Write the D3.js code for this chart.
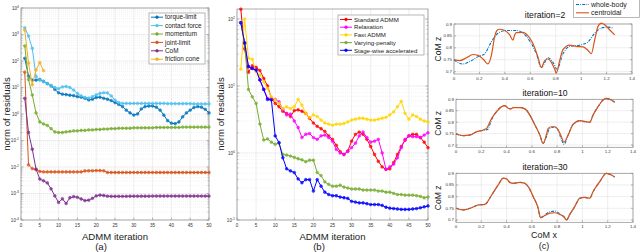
<!DOCTYPE html>
<html>
<head>
<meta charset="utf-8">
<script src="https://cdn.jsdelivr.net/npm/d3@7"></script>
<style>
  body { margin: 0; background: #fff; }
  svg { display: block; font-family: "Liberation Sans", Arial, sans-serif; }
</style>
</head>
<body>
<svg id="fig" width="640" height="252"></svg>
<script>
// ---------- panel (a): residual of each block, iterations 1..50
const torqueLimit = [126, 27, 19, 19, 20, 17, 14, 11.5, 8.5, 6.3,
  5.6, 5.4, 5.1, 4.9, 4.5, 4.3, 3.9, 3.4, 3.6, 4.2,
  4.3, 3.9, 3.6, 3.2, 2.7, 2.3, 1.9, 1.4, 1.1, 0.91,
  1.0, 1.55, 1.9, 2.0, 2.0, 1.8, 1.4, 0.9, 0.56, 0.45,
  0.43, 0.5, 0.78, 1.1, 1.4, 1.75, 1.9, 1.8, 1.5, 1.1];
const contactForce = [1780, 870, 300, 26, 19, 17, 14, 12, 10, 9,
  10.5, 11, 10, 8, 6, 4.8, 4.2, 4, 4.5, 5.3,
  6, 6.3, 6.2, 4.8, 3.3, 2.7, 2.5, 2.5, 2.5, 2.5,
  2.5, 2.5, 2.5, 2.5, 2.5, 2.5, 2.5, 2.5, 2.45, 2.45,
  2.45, 2.45, 2.45, 2.45, 2.45, 2.4, 2.4, 2.4, 2.4, 2.4];
const momentum = [370, 20, 5.2, 1.1, 0.5, 0.42, 0.37, 0.28, 0.21, 0.2,
  0.2, 0.21, 0.22, 0.23, 0.23, 0.24, 0.24, 0.25, 0.25, 0.26,
  0.26, 0.27, 0.27, 0.28, 0.28, 0.29, 0.29, 0.29, 0.29, 0.3,
  0.3, 0.3, 0.3, 0.3, 0.3, 0.31, 0.31, 0.31, 0.31, 0.31,
  0.31, 0.31, 0.32, 0.32, 0.32, 0.32, 0.32, 0.32, 0.32, 0.32];
const jointLimit = [38, 0.012, 0.0087, 0.0079, 0.0068, 0.0065, 0.0065, 0.0065, 0.0065, 0.0065,
  0.0065, 0.0065, 0.0065, 0.0065, 0.0065, 0.0065, 0.0071, 0.0072, 0.0072, 0.0073,
  0.0073, 0.0072, 0.0062, 0.0062, 0.0062, 0.0062, 0.0062, 0.0062, 0.0062, 0.0062,
  0.0062, 0.0062, 0.0062, 0.0062, 0.0062, 0.0062, 0.0062, 0.0062, 0.0062, 0.0062,
  0.0062, 0.0062, 0.0062, 0.0062, 0.0062, 0.0062, 0.0062, 0.0062, 0.0062, 0.0062];
const comResidual = [3.9, 0.2, 0.047, 0.0083, 0.0035, 0.003, 0.0025, 0.0015, 0.00081, 0.00046,
  0.00063, 0.00042, 0.00069, 0.00076, 0.00072, 0.00062, 0.00054, 0.00056, 0.00066, 0.00081,
  0.00087, 0.00084, 0.00079, 0.00078, 0.00078, 0.00078, 0.00078, 0.00078, 0.00079, 0.00079,
  0.00079, 0.00079, 0.00079, 0.00079, 0.0008, 0.0008, 0.0008, 0.0008, 0.0008, 0.0008,
  0.0008, 0.0008, 0.0008, 0.0008, 0.0008, 0.0008, 0.0008, 0.0008, 0.0008, 0.0008];
const frictionCone = [1480, 83, 12.6, 46, 87, 43];
const namesA = ["torque-limit", "contact force", "momentum", "joint-limit", "CoM", "friction cone"];

// ---------- panel (b): ADMM variants, iterations 1..50
const standardADMM = [140, 36, 16, 20, 19, 17, 13, 10, 6.6, 5.5,
  4.9, 4.2, 3.9, 3.5, 4.3, 4.4, 4.2, 3.9, 3.3, 2.8,
  2.5, 2.3, 2.1, 1.8, 1.6, 1.3, 1.05, 0.95, 1.07, 1.5,
  1.9, 2.05, 1.9, 1.6, 1.25, 0.95, 0.75, 0.62, 0.57, 0.58,
  0.72, 0.95, 1.25, 1.55, 1.8, 1.9, 1.9, 1.7, 1.45, 1.2];
const relaxation = [88, 44, 19.5, 18.3, 17.3, 12.3, 8.9, 6.5, 6.3, 6.3,
  5.8, 4.5, 3.7, 3.8, 3.0, 2.4, 1.7, 1.9, 1.95, 1.7,
  1.6, 1.8, 1.85, 1.7, 1.5, 1.13, 1.0, 0.95, 1.05, 1.2,
  1.4, 1.8, 2.05, 1.7, 1.45, 1.5, 1.6, 1.0, 0.57, 0.62,
  0.68, 0.85, 1.2, 1.6, 1.8, 1.75, 1.75, 1.7, 1.85, 2.0];
const fastADMM = [17.8, 100, 26, 25, 16.3, 14.5, 11.5, 9.2, 6.9, 6.2,
  5.5, 4.6, 4.9, 4.6, 4.9, 6.3, 5.2, 3.9, 3.4, 3.7,
  3.5, 3.1, 2.8, 2.7, 2.6, 2.7, 2.7, 2.75, 2.9, 3.1,
  3.2, 3.3, 3.3, 3.2, 3.1, 3.1, 3.2, 3.3, 3.4, 3.7,
  4.1, 4.9, 5.9, 3.9, 3.2, 3.7, 3.5, 3.2, 3.0, 2.9];
const varyingPenalty = [88, 43, 8.9, 6.9, 5.5, 2.7, 1.56, 1.62, 1.45, 1.35,
  1.4, 0.95, 0.93, 0.9, 0.86, 0.82, 0.79, 0.74, 0.78, 0.78,
  0.51, 0.46, 0.37, 0.34, 0.32, 0.32, 0.33, 0.31, 0.30, 0.29,
  0.29, 0.29, 0.28, 0.28, 0.28, 0.28, 0.27, 0.27, 0.26, 0.26,
  0.25, 0.24, 0.24, 0.235, 0.235, 0.235, 0.23, 0.225, 0.215, 0.22];
const stageWise = [88, 44, 19.5, 18.3, 17.3, 12.3, 8.9, 6.3, 6.2, 1.8,
  1.43, 0.85, 0.58, 0.54, 0.51, 0.41, 0.36, 0.40, 0.40, 0.27,
  0.40, 0.32, 0.26, 0.24, 0.23, 0.23, 0.22, 0.215, 0.21, 0.19,
  0.185, 0.18, 0.18, 0.175, 0.17, 0.17, 0.17, 0.165, 0.155, 0.15,
  0.148, 0.146, 0.144, 0.144, 0.144, 0.146, 0.148, 0.152, 0.157, 0.162];
const namesB = ["Standard ADMM", "Relaxation", "Fast ADMM", "Varying-penalty", "Stage-wise accelerated"];

// ---------- panel (c): CoM trajectories [x, z]
const wholeBody2 = [[0, 0.749], [0.071, 0.732], [0.123, 0.742], [0.189, 0.763], [0.241, 0.775],
  [0.294, 0.825], [0.346, 0.861], [0.412, 0.873], [0.49, 0.873], [0.543, 0.861], [0.595, 0.829],
  [0.648, 0.775], [0.687, 0.717], [0.739, 0.758], [0.779, 0.739], [0.81, 0.71], [0.857, 0.775],
  [0.91, 0.806], [0.988, 0.811], [1.054, 0.825], [1.106, 0.861], [1.159, 0.883], [1.211, 0.887],
  [1.25, 0.883]];
const centroidal2 = [[0, 0.749], [0.045, 0.746], [0.097, 0.758], [0.149, 0.772], [0.189, 0.768],
  [0.228, 0.753], [0.267, 0.732], [0.294, 0.768], [0.32, 0.847], [0.338, 0.873], [0.359, 0.878],
  [0.399, 0.873], [0.438, 0.854], [0.464, 0.832], [0.477, 0.854], [0.49, 0.864], [0.543, 0.865],
  [0.582, 0.85], [0.621, 0.818], [0.661, 0.76], [0.687, 0.717], [0.713, 0.746], [0.739, 0.753],
  [0.766, 0.739], [0.792, 0.71], [0.805, 0.695], [0.831, 0.746], [0.857, 0.792], [0.91, 0.811],
  [0.962, 0.806], [1.015, 0.804], [1.054, 0.789], [1.08, 0.775], [1.106, 0.832], [1.133, 0.89],
  [1.159, 0.904], [1.185, 0.897], [1.224, 0.876], [1.264, 0.854]];
const wholeBody10 = [[0, 0.748], [0.058, 0.741], [0.111, 0.744], [0.163, 0.758], [0.216, 0.764],
  [0.25, 0.768], [0.282, 0.812], [0.321, 0.846], [0.361, 0.868], [0.387, 0.872], [0.413, 0.861],
  [0.432, 0.858], [0.453, 0.864], [0.505, 0.864], [0.545, 0.858], [0.584, 0.831], [0.624, 0.788],
  [0.663, 0.744], [0.689, 0.707], [0.716, 0.737], [0.74, 0.772], [0.772, 0.778], [0.8, 0.772],
  [0.83, 0.73], [0.855, 0.703], [0.887, 0.744], [0.926, 0.79], [0.979, 0.805], [1.032, 0.8],
  [1.058, 0.801], [1.084, 0.831], [1.124, 0.868], [1.163, 0.897], [1.189, 0.904], [1.229, 0.897],
  [1.255, 0.887]];
const centroidal10 = [[0, 0.748], [0.058, 0.741], [0.111, 0.744], [0.163, 0.758], [0.216, 0.766],
  [0.242, 0.773], [0.282, 0.817], [0.321, 0.846], [0.361, 0.868], [0.387, 0.872], [0.413, 0.861],
  [0.432, 0.858], [0.453, 0.864], [0.505, 0.864], [0.545, 0.858], [0.584, 0.831], [0.624, 0.788],
  [0.663, 0.744], [0.689, 0.707], [0.716, 0.747], [0.729, 0.773], [0.755, 0.78], [0.782, 0.78],
  [0.808, 0.766], [0.834, 0.736], [0.853, 0.712], [0.887, 0.744], [0.926, 0.79], [0.979, 0.807],
  [1.032, 0.802], [1.058, 0.799], [1.084, 0.831], [1.124, 0.868], [1.163, 0.897], [1.189, 0.904],
  [1.229, 0.897], [1.255, 0.887]];
const wholeBody30 = [[0, 0.75], [0.058, 0.743], [0.111, 0.75], [0.176, 0.764], [0.229, 0.767],
  [0.282, 0.807], [0.334, 0.85], [0.374, 0.879], [0.4, 0.876], [0.426, 0.861], [0.453, 0.857],
  [0.505, 0.861], [0.545, 0.857], [0.571, 0.843], [0.611, 0.8], [0.65, 0.75], [0.668, 0.71],
  [0.703, 0.722], [0.742, 0.735], [0.782, 0.738], [0.821, 0.727], [0.853, 0.714], [0.874, 0.7],
  [0.9, 0.724], [0.939, 0.757], [0.979, 0.793], [1.018, 0.797], [1.058, 0.793], [1.084, 0.821],
  [1.137, 0.864], [1.189, 0.9], [1.229, 0.893], [1.255, 0.884]];
const centroidal30 = [[0, 0.75], [0.058, 0.743], [0.111, 0.75], [0.176, 0.764], [0.229, 0.767],
  [0.282, 0.807], [0.334, 0.85], [0.374, 0.879], [0.4, 0.876], [0.426, 0.861], [0.453, 0.857],
  [0.505, 0.861], [0.545, 0.857], [0.571, 0.843], [0.611, 0.8], [0.65, 0.75], [0.668, 0.71],
  [0.703, 0.719], [0.742, 0.729], [0.782, 0.731], [0.821, 0.724], [0.853, 0.714], [0.874, 0.7],
  [0.9, 0.724], [0.939, 0.757], [0.979, 0.793], [1.018, 0.797], [1.058, 0.793], [1.084, 0.821],
  [1.137, 0.864], [1.189, 0.9], [1.229, 0.893], [1.255, 0.884]];
const cTitles = ["iteration=2", "iteration=10", "iteration=30"];
const namesC = ["whole-body", "centroidal"];

// tick labels
const iterTicks = [0, 5, 10, 15, 20, 25, 30, 35, 40, 45, 50];
const comXTicks = [0, 0.2, 0.4, 0.6, 0.8, 1, 1.2, 1.4];
const comZTicks = [0.7, 0.75, 0.8, 0.85, 0.9];

const svg = d3.select("#fig");
const axisCol = "#8a8a8a", gridCol = "#e3e3e3", txtCol = "#333";

// "10^k" style label
function powLabel(g, x, y, k, anchor) {
  const t = g.append("text").attr("x", x).attr("y", y)
    .attr("text-anchor", anchor).attr("font-size", 4.6).attr("fill", txtCol);
  t.append("tspan").text("10");
  t.append("tspan").attr("dy", -2).attr("font-size", 3.4).text(k);
}

function logPanel(o) {
  const g = svg.append("g");
  const x = d3.scaleLinear().domain([0, 50]).range([o.x0, o.x1]);
  const y = d3.scaleLog().domain(o.yDomain).range([o.y1, o.y0]);
  const lo = Math.ceil(Math.log10(o.yDomain[0])), hi = Math.floor(Math.log10(o.yDomain[1]));
  const major = d3.range(lo, hi + 1);
  const minor = [];
  d3.range(lo - 1, hi + 1).forEach(e => {
    for (let k = 2; k <= 9; k++) {
      const v = k * Math.pow(10, e);
      if (v > o.yDomain[0] && v < o.yDomain[1]) minor.push(v);
    }
  });

  // grid
  g.selectAll(".mn").data(minor).join("line")
    .attr("x1", o.x0).attr("x2", o.x1).attr("y1", d => y(d)).attr("y2", d => y(d))
    .attr("stroke", "#e6e6e6").attr("stroke-width", 0.5).attr("stroke-dasharray", "1,1");
  g.selectAll(".mj").data(major).join("line")
    .attr("x1", o.x0).attr("x2", o.x1).attr("y1", d => y(Math.pow(10, d))).attr("y2", d => y(Math.pow(10, d)))
    .attr("stroke", gridCol).attr("stroke-width", 0.6);
  g.selectAll(".vx").data(iterTicks).join("line")
    .attr("x1", d => x(d)).attr("x2", d => x(d)).attr("y1", o.y0).attr("y2", o.y1)
    .attr("stroke", gridCol).attr("stroke-width", 0.6);

  // box + inward ticks
  g.append("rect").attr("x", o.x0).attr("y", o.y0).attr("width", o.x1 - o.x0).attr("height", o.y1 - o.y0)
    .attr("fill", "none").attr("stroke", axisCol).attr("stroke-width", 0.7);
  [o.x0, o.x1].forEach((ax, s) => {
    const dir = s === 0 ? 1 : -1;
    g.selectAll(null).data(minor).join("line")
      .attr("x1", ax).attr("x2", ax + dir * 1.5).attr("y1", d => y(d)).attr("y2", d => y(d))
      .attr("stroke", axisCol).attr("stroke-width", 0.5);
    g.selectAll(null).data(major).join("line")
      .attr("x1", ax).attr("x2", ax + dir * 2.5).attr("y1", d => y(Math.pow(10, d))).attr("y2", d => y(Math.pow(10, d)))
      .attr("stroke", axisCol).attr("stroke-width", 0.6);
  });
  g.selectAll(null).data(iterTicks).join("line")
    .attr("x1", d => x(d)).attr("x2", d => x(d)).attr("y1", o.y1).attr("y2", o.y1 - 2.5)
    .attr("stroke", axisCol).attr("stroke-width", 0.6);

  // tick labels
  major.forEach(e => powLabel(g, o.x0 - 2, y(Math.pow(10, e)) + 1.8, e, "end"));
  g.selectAll(null).data(iterTicks).join("text")
    .attr("x", d => x(d)).attr("y", o.y1 + 6.5).attr("text-anchor", "middle")
    .attr("font-size", 4.6).attr("fill", txtCol).text(d => d);

  // series
  const line = d3.line().x((d, i) => x(i + 1)).y(d => y(d));
  o.series.forEach((s, k) => {
    const c = o.colors[k];
    g.append("path").datum(s).attr("d", line).attr("fill", "none")
      .attr("stroke", c).attr("stroke-width", 1);
    g.selectAll(null).data(s).join("circle")
      .attr("cx", (d, i) => x(i + 1)).attr("cy", d => y(d)).attr("r", 1.4)
      .attr("fill", c).attr("fill-opacity", 0.75).attr("stroke", c).attr("stroke-width", 0.5);
  });

  // axis labels
  g.append("text").attr("x", (o.x0 + o.x1) / 2).attr("y", 239.5).attr("text-anchor", "middle")
    .attr("font-size", 9.6).attr("fill", "#222").text("ADMM iteration");
  g.append("text").attr("x", o.capX).attr("y", 250).attr("text-anchor", "middle")
    .attr("font-size", 9.6).attr("fill", "#222").text(o.cap);
  g.append("text").attr("transform", `translate(${o.yLabX},${o.yLabY}) rotate(-90)`)
    .attr("text-anchor", "middle").attr("font-size", 9.6).attr("fill", "#222").text("norm of residuals");

  // legend
  const L = o.legend;
  const lg = g.append("g");
  lg.append("rect").attr("x", L.x).attr("y", L.y).attr("width", L.w).attr("height", L.h)
    .attr("fill", "#fff").attr("stroke", "#9a9a9a").attr("stroke-width", 0.7);
  o.names.forEach((n, k) => {
    const yy = L.y + L.pad + k * L.step;
    const c = o.colors[k];
    lg.append("line").attr("x1", L.x + 2).attr("x2", L.x + 2 + L.sw).attr("y1", yy).attr("y2", yy)
      .attr("stroke", c).attr("stroke-width", 1);
    lg.append("circle").attr("cx", L.x + 2 + L.sw / 2).attr("cy", yy).attr("r", 1.4)
      .attr("fill", c).attr("stroke", c).attr("stroke-width", 0.5);
    lg.append("text").attr("x", L.x + 4 + L.sw).attr("y", yy + 2.2).attr("font-size", L.fs)
      .attr("fill", "#222").text(n);
  });
}

logPanel({
  x0: 21, x1: 209, y0: 8, y1: 220, yDomain: [1e-4, 1e4],
  series: [torqueLimit, contactForce, momentum, jointLimit, comResidual, frictionCone],
  colors: ["#0072BD", "#4DBEEE", "#77AC30", "#D95319", "#7E2F8E", "#EDB120"],
  names: namesA, cap: "(a)", capX: 101, yLabX: 10, yLabY: 114,
  legend: { x: 149, y: 13, w: 56, h: 51, pad: 4.2, step: 8.4, sw: 12, fs: 6.4 }
});

logPanel({
  x0: 237, x1: 428, y0: 9, y1: 220, yDomain: [0.1, 141],
  series: [standardADMM, relaxation, fastADMM, varyingPenalty, stageWise],
  colors: ["#FF0000", "#FF00FF", "#FFD500", "#77AC30", "#0000FF"],
  names: namesB, cap: "(b)", capX: 319, yLabX: 224, yLabY: 114,
  legend: { x: 338, y: 15, w: 86, h: 40, pad: 4.5, step: 7.7, sw: 12, fs: 6.1 }
});

// ---------- panel (c)
const subplots = [
  { x0: 454, x1: 632, y0: 24, y1: 74, title: 18, wb: wholeBody2, cd: centroidal2 },
  { x0: 456, x1: 633, y0: 99.3, y1: 147.3, title: 95.5, wb: wholeBody10, cd: centroidal10 },
  { x0: 456, x1: 633, y0: 173.3, y1: 222.3, title: 170, wb: wholeBody30, cd: centroidal30 }
];
const wbCol = "#0072BD", cdCol = "#D95319";

subplots.forEach((p, k) => {
  const g = svg.append("g");
  const x = d3.scaleLinear().domain([0, 1.4]).range([p.x0, p.x1]);
  const y = d3.scaleLinear().domain([0.69, 0.9]).range([p.y1, p.y0]);

  g.selectAll(null).data(comXTicks).join("line")
    .attr("x1", d => x(d)).attr("x2", d => x(d)).attr("y1", p.y0).attr("y2", p.y1)
    .attr("stroke", gridCol).attr("stroke-width", 0.6);
  g.selectAll(null).data(comZTicks).join("line")
    .attr("x1", p.x0).attr("x2", p.x1).attr("y1", d => y(d)).attr("y2", d => y(d))
    .attr("stroke", gridCol).attr("stroke-width", 0.6);
  g.append("rect").attr("x", p.x0).attr("y", p.y0).attr("width", p.x1 - p.x0).attr("height", p.y1 - p.y0)
    .attr("fill", "none").attr("stroke", axisCol).attr("stroke-width", 0.7);
  g.selectAll(null).data(comZTicks).join("line")
    .attr("x1", p.x0).attr("x2", p.x0 + 2).attr("y1", d => y(d)).attr("y2", d => y(d))
    .attr("stroke", axisCol).attr("stroke-width", 0.6);
  g.selectAll(null).data(comZTicks).join("line")
    .attr("x1", p.x1).attr("x2", p.x1 - 2).attr("y1", d => y(d)).attr("y2", d => y(d))
    .attr("stroke", axisCol).attr("stroke-width", 0.6);
  g.selectAll(null).data(comXTicks).join("line")
    .attr("x1", d => x(d)).attr("x2", d => x(d)).attr("y1", p.y1).attr("y2", p.y1 - 2)
    .attr("stroke", axisCol).attr("stroke-width", 0.6);

  g.selectAll(null).data(comXTicks).join("text")
    .attr("x", d => x(d)).attr("y", p.y1 + 5.5).attr("text-anchor", "middle")
    .attr("font-size", 4.4).attr("fill", txtCol).text(d => d);
  g.selectAll(null).data(comZTicks).join("text")
    .attr("x", p.x0 - 2).attr("y", d => y(d) + 1.5).attr("text-anchor", "end")
    .attr("font-size", 4.4).attr("fill", txtCol).text(d => d);

  const line = d3.line().x(d => x(d[0])).y(d => y(d[1])).curve(d3.curveMonotoneX);
  g.append("path").datum(p.wb).attr("d", line).attr("fill", "none")
    .attr("stroke", wbCol).attr("stroke-width", 1.1).attr("stroke-dasharray", "3,1.2,0.8,1.2");
  g.append("path").datum(p.cd).attr("d", line).attr("fill", "none")
    .attr("stroke", cdCol).attr("stroke-width", 1.2);

  g.append("text").attr("x", 545).attr("y", p.title).attr("text-anchor", "middle")
    .attr("font-size", 8.6).attr("fill", "#111").text(cTitles[k]);
  g.append("text").attr("transform", `translate(441,${(p.y0 + p.y1) / 2}) rotate(-90)`)
    .attr("text-anchor", "middle").attr("font-size", 8.6).attr("fill", "#222").text("CoM z");
});

svg.append("text").attr("x", 544).attr("y", 238).attr("text-anchor", "middle")
  .attr("font-size", 9).attr("fill", "#222").text("CoM x");
svg.append("text").attr("x", 544).attr("y", 249).attr("text-anchor", "middle")
  .attr("font-size", 9).attr("fill", "#222").text("(c)");

// legend (c)
const lc = svg.append("g");
lc.append("rect").attr("x", 573.5).attr("y", -1).attr("width", 66).attr("height", 18.5)
  .attr("fill", "#fff").attr("stroke", "#9a9a9a").attr("stroke-width", 0.7);
[wbCol, cdCol].forEach((c, k) => {
  const yy = 4.5 + k * 8.3;
  lc.append("line").attr("x1", 576).attr("x2", 589).attr("y1", yy).attr("y2", yy)
    .attr("stroke", c).attr("stroke-width", 1.1)
    .attr("stroke-dasharray", k === 0 ? "3,1.2,0.8,1.2" : null);
  lc.append("text").attr("x", 591).attr("y", yy + 2.5).attr("font-size", 7)
    .attr("fill", "#222").text(namesC[k]);
});
</script>
</body>
</html>
